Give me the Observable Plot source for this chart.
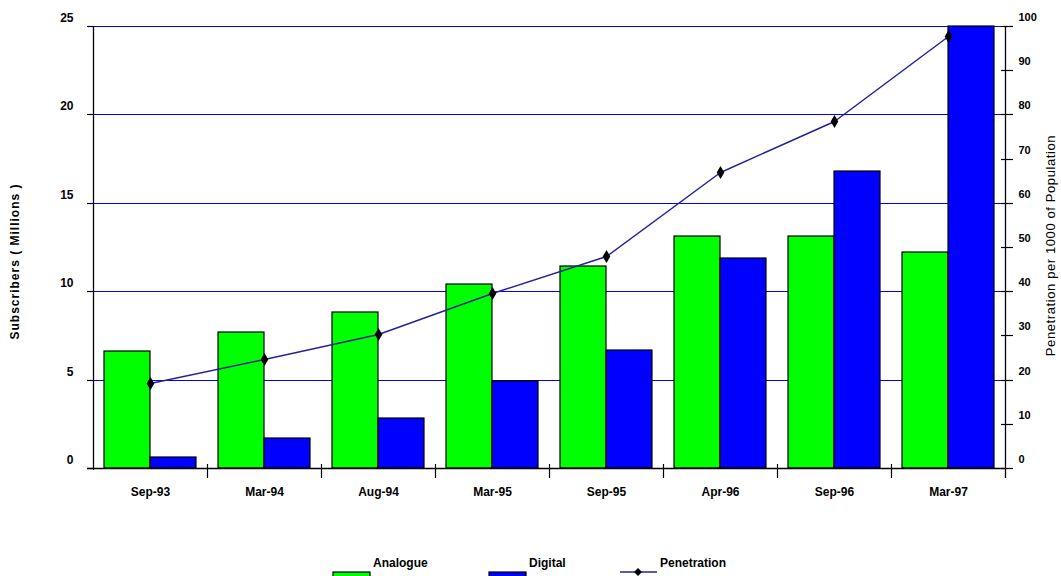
<!DOCTYPE html>
<html><head><meta charset="utf-8">
<script src="https://cdn.jsdelivr.net/npm/d3@7"></script>
<script src="https://cdn.jsdelivr.net/npm/@observablehq/plot@0.6"></script>
<style>
body{margin:0;background:#fff;font-family:"Liberation Sans",Arial,sans-serif;}
#legend{position:relative;width:1061px;height:46px;overflow:hidden;}
#legend svg{display:block;}
</style></head><body>
<div id="chart"></div>
<div id="legend"></div>
<script>
const categories = ["Sep-93","Mar-94","Aug-94","Mar-95","Sep-95","Apr-96","Sep-96","Mar-97"];
const analogue = [6.6, 7.7, 8.8, 10.4, 11.4, 13.1, 13.1, 12.2];
const digital = [0.6, 1.7, 2.8, 4.9, 6.7, 11.9, 16.8, 25];
const penetration = [19.2, 24.7, 30.3, 39.6, 48, 67, 78.5, 97.7];
const leftTicks = [0, 5, 10, 15, 20, 25];
const rightTicks = [0, 10, 20, 30, 40, 50, 60, 70, 80, 90, 100];
const leftLabel = "Subscribers ( Millions )";
const rightLabel = "Penetration per 1000 of Population";
const seriesNames = ["Analogue", "Digital", "Penetration"];

const penScale = 4; // 100 per 1000 <-> 25 million on the shared axis
const rows = categories.map((category, i) => ({category, analogue: analogue[i], digital: digital[i], penetration: penetration[i]}));

const W = 1061, H = 530, ML = 93, MR = 56;
const bw = (W - ML - MR) / categories.length;
const font = "'Liberation Sans', Arial, sans-serif";
const rightTickVals = rightTicks.map(v => v / penScale);

const chart = Plot.plot({
  width: W, height: H,
  marginLeft: ML, marginRight: MR, marginTop: 26, marginBottom: 62,
  style: {fontFamily: font, fontWeight: "bold", fontSize: "12px", color: "#000", background: "#fff", overflow: "visible"},
  x: {type: "band", domain: categories, padding: 0, axis: null},
  y: {domain: [0, 25], axis: null, round: true},
  marks: [
    Plot.ruleY(leftTicks.filter(d => d > 0), {stroke: "#0000ff", strokeWidth: 1}),
    Plot.barY(rows, {x: "category", y: "analogue", fill: "#00ff00", stroke: "#000", strokeWidth: 1.2, insetLeft: 11, insetRight: 57}),
    Plot.barY(rows, {x: "category", y: "digital", fill: "#0000ff", stroke: "#000", strokeWidth: 1.2, insetLeft: 57, insetRight: 11}),
    Plot.ruleY([0], {stroke: "#000", strokeWidth: 1.3, insetLeft: -6}),
    Plot.ruleX([categories[0]], {x: d => d, dx: -bw / 2, y1: -0.1, y2: 25, stroke: "#000", strokeWidth: 1.3}),
    Plot.ruleX([categories[categories.length - 1]], {x: d => d, dx: bw / 2, y1: -0.57, y2: 25, stroke: "#000", strokeWidth: 1.3}),
    Plot.ruleX(categories.slice(1), {x: d => d, dx: -bw / 2, y1: 0.25, y2: -0.57, stroke: "#000", strokeWidth: 1.2}),
    Plot.axisY(leftTicks, {anchor: "left", tickSize: 6, strokeWidth: 1.2, tickFormat: () => "", label: null}),
    Plot.axisY(leftTicks, {anchor: "left", tickSize: 0, tickPadding: 20, dy: -8, fontSize: 12, fontWeight: "bold", label: null}),
    Plot.axisY(rightTickVals, {anchor: "right", tickSize: 12, dx: -5, strokeWidth: 1.2, tickFormat: () => "", label: null}),
    Plot.axisY(rightTickVals, {anchor: "right", tickSize: 0, tickPadding: 13, dy: -9, fontSize: 11, fontWeight: "bold", label: null, tickFormat: d => String(Math.round(d * penScale))}),
    Plot.axisX({anchor: "bottom", tickSize: 0, tickPadding: 19, fontSize: 12, fontWeight: "bold", label: null}),
    Plot.line(rows, {x: "category", y: d => d.penetration / penScale, stroke: "#23239a", strokeWidth: 1.5}),
    Plot.dot(rows, {x: "category", y: d => d.penetration / penScale, symbol: "diamond", fill: "#000", r: 4}),
    Plot.text([leftLabel], {text: d => d, frameAnchor: "left", textAnchor: "middle", dx: -78, dy: 14, rotate: -90, fontSize: 12, fontWeight: "bold"}),
    Plot.text([rightLabel], {text: d => d, frameAnchor: "right", textAnchor: "middle", dx: 45, dy: -2, rotate: -90, fontSize: 13, fontWeight: "normal"})
  ]
});
document.getElementById("chart").append(chart);
chart.querySelectorAll("text").forEach(t => {
  if (t.textContent === leftLabel) t.setAttribute("letter-spacing", "1");
  if (t.textContent === rightLabel) t.setAttribute("letter-spacing", "0.6");
});

// Legend below the chart
const lg = d3.select("#legend").append("svg").attr("width", W).attr("height", 46)
  .style("font-family", font).style("font-size", "12px").style("font-weight", "bold");
const items = [
  {name: seriesNames[0], x: 333, kind: "rect", color: "#00ff00"},
  {name: seriesNames[1], x: 489, kind: "rect", color: "#0000ff"},
  {name: seriesNames[2], x: 620, kind: "line", color: "#23239a"}
];
items.forEach(it => {
  if (it.kind === "rect") {
    lg.append("rect").attr("x", it.x).attr("y", 42).attr("width", 37).attr("height", 12)
      .attr("fill", it.color).attr("stroke", "#000").attr("stroke-width", 1.2);
  } else {
    lg.append("line").attr("x1", it.x).attr("x2", it.x + 37).attr("y1", 42).attr("y2", 42)
      .attr("stroke", it.color).attr("stroke-width", 1.5);
    lg.append("path").attr("d", d3.symbol(d3.symbolDiamond2, 40)()).attr("transform", `translate(${it.x + 18},42)`).attr("fill", "#000");
  }
  lg.append("text").attr("x", it.x + 40).attr("y", 33).attr("dy", "0.35em").text(it.name);
});
</script>
</body></html>
